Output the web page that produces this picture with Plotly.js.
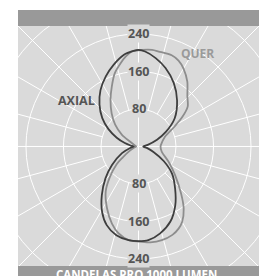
<!DOCTYPE html>
<html>
<head>
<meta charset="utf-8">
<script src="https://cdn.plot.ly/plotly-3.0.1.min.js"></script>
<style>
  html, body { margin: 0; padding: 0; background: #ffffff; }
  #chart { width: 268px; height: 276px; }
</style>
</head>
<body>
<div id="chart"></div>
<script>
// ---- data (angle in degrees from nadir, counter-clockwise on screen; values in cd/1000 lm) ----
const axialTheta = [0, 6, 14, 23, 32, 41, 51, 60, 70, 80, 90, 100, 110, 118, 128, 140, 151, 161, 169, 176, 180,
                    183, 189, 197, 205, 214, 223, 232, 240, 248, 256, 263, 270, 280, 292, 305, 314, 323, 331, 338, 346, 354, 360];
const axialCd    = [202, 201, 191, 174, 148, 119, 92, 62, 34, 18, 10, 20, 42, 66, 98, 128, 155, 177, 192, 203, 206,
                    204, 198, 182, 165, 145, 122, 98, 74, 50, 30, 17, 10, 18, 38, 69, 98, 130, 160, 181, 195, 201, 202];

const querTheta  = [0, 7, 14, 21, 26, 30, 36, 42, 52, 63, 77, 90, 94, 110, 119, 124, 129, 136, 143, 150, 155, 160, 168, 172, 178,
                    184, 188, 192, 198, 204, 211, 219, 227, 235, 240, 255, 270, 285, 297, 305, 309, 317, 324, 333, 341, 347, 354, 360];
const querCd     = [203, 206, 206, 202, 195, 186, 164, 136, 99, 72, 51, 47, 48, 60, 88, 113, 135, 150, 173, 192, 202, 207, 207, 208, 206,
                    203, 194, 182, 164, 140, 116, 91, 68, 43, 22, 8, 5, 10, 22, 42, 60, 90, 119, 148, 174, 190, 201, 203];

const ringValues  = [80, 160, 240, 320];
const labelValues = [80, 160, 240];
const seriesNames = ['AXIAL', 'QUER'];
const unitText    = 'CANDELAS PRO 1000 LUMEN';

// ---- helpers ----
const rad = d => d * Math.PI / 180;
const toX = (t, r) => r.map((v, i) => v * Math.sin(rad(t[i])));
const toY = (t, r) => r.map((v, i) => -v * Math.cos(rad(t[i])));

const BG = '#dadada';
const GRID = '#ffffff';
const FONT = 'Open Sans, Liberation Sans, Arial, sans-serif';

const traces = [
  {
    type: 'scatter', mode: 'lines', name: seriesNames[1],
    x: toX(querTheta, querCd), y: toY(querTheta, querCd),
    line: { color: '#8d8d8d', width: 1.8, shape: 'spline', smoothing: 0.8 },
    hoverinfo: 'skip'
  },
  {
    type: 'scatter', mode: 'lines', name: seriesNames[0],
    x: toX(axialTheta, axialCd), y: toY(axialTheta, axialCd),
    line: { color: '#3e3e3e', width: 1.8, shape: 'spline', smoothing: 0.8 },
    hoverinfo: 'skip'
  }
];

const shapes = [];
ringValues.forEach(r => {
  shapes.push({ type: 'circle', xref: 'x', yref: 'y', x0: -r, x1: r, y0: -r, y1: r,
                line: { color: GRID, width: 1 }, layer: 'below' });
});
const outer = 420;
for (let a = 0; a < 360; a += 15) {
  const r0 = (a % 90 === 0) ? 0 : ringValues[0];
  shapes.push({ type: 'line', xref: 'x', yref: 'y',
                x0: r0 * Math.sin(rad(a)), y0: -r0 * Math.cos(rad(a)),
                x1: outer * Math.sin(rad(a)), y1: -outer * Math.cos(rad(a)),
                line: { color: GRID, width: 1 }, layer: 'below' });
}
// header and footer bars
shapes.push({ type: 'rect', xref: 'paper', yref: 'paper', x0: 0, x1: 1, y0: 1, y1: 1 + 16 / 240,
              fillcolor: '#999999', line: { width: 0 }, layer: 'above' });
shapes.push({ type: 'rect', xref: 'paper', yref: 'paper', x0: 0, x1: 1, y0: -0.06, y1: 0,
              fillcolor: '#999999', line: { width: 0 }, layer: 'above' });

const annotations = [];
labelValues.forEach(v => {
  [v, -v].forEach(y => {
    annotations.push({ x: 0, y: y, xref: 'x', yref: 'y', text: String(v), showarrow: false,
                       bgcolor: BG, borderpad: 0,
                       font: { family: FONT, size: 12.5, color: '#555555', weight: 'bold' } });
  });
});
annotations.push({ x: -133, y: 99, xref: 'x', yref: 'y', text: seriesNames[0], showarrow: false,
                   font: { family: FONT, size: 12.5, color: '#555555', weight: 'bold' } });
annotations.push({ x: 126, y: 199, xref: 'x', yref: 'y', text: seriesNames[1], showarrow: false,
                   font: { family: FONT, size: 12, color: '#9a9a9a', weight: 'bold' } });
annotations.push({ x: 0.49, y: 0.002, xref: 'paper', yref: 'paper', yanchor: 'top', text: unitText,
                   showarrow: false, borderpad: 0,
                   font: { family: FONT, size: 11.5, color: '#ffffff', weight: 'bold' } });

const layout = {
  width: 268, height: 276,
  margin: { l: 18, r: 9, t: 26, b: 10, pad: 0 },
  paper_bgcolor: '#ffffff',
  plot_bgcolor: BG,
  showlegend: false,
  xaxis: { range: [-257, 257], visible: false, showgrid: false, zeroline: false, fixedrange: true },
  yaxis: { range: [-255, 257], visible: false, showgrid: false, zeroline: false, fixedrange: true },
  shapes: shapes,
  annotations: annotations
};

Plotly.newPlot('chart', traces, layout, { staticPlot: true, displayModeBar: false });
</script>
</body>
</html>
